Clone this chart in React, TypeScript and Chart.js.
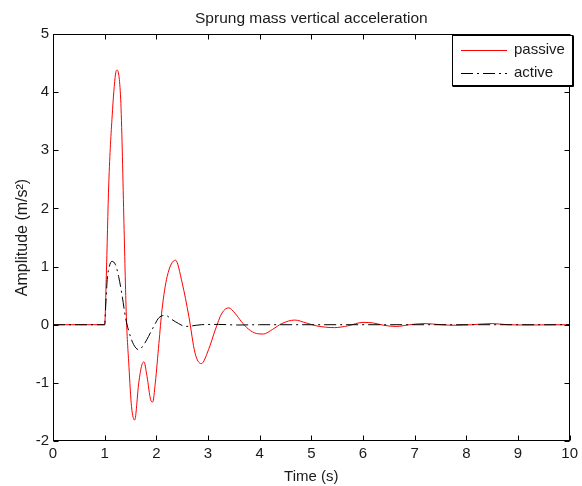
import React, { useEffect, useRef } from "react";
import { Chart, registerables } from "chart.js";

Chart.register(...registerables);

const FONT = "'Liberation Sans', Arial, Helvetica, sans-serif";

const titleText = "Sprung mass vertical acceleration";
const xAxisLabel = "Time (s)";
const yAxisLabel = "Amplitude (m/s²)";
const seriesNames = ["passive", "active"];

const xTickValues = [0, 1, 2, 3, 4, 5, 6, 7, 8, 9, 10];
const yTickValues = [-2, -1, 0, 1, 2, 3, 4, 5];

const passiveTime = [
  0, 1.0, 1.03, 1.08, 1.145, 1.21, 1.24, 1.31, 1.34, 1.37, 1.42, 1.47, 1.52, 1.58,
  1.66, 1.72, 1.76, 1.82, 1.89, 1.93, 1.98, 2.05, 2.11, 2.21, 2.37, 2.5, 2.63, 2.75,
  2.87, 3.01, 3.14, 3.27, 3.4, 3.52, 3.65, 3.75, 3.9, 4.07, 4.25, 4.43, 4.68, 4.9,
  5.1, 5.45, 5.7, 6.0, 6.2, 6.4, 6.65, 6.9, 7.2, 7.5, 7.8, 8.1, 8.5, 8.8, 9.2, 10,
];
const passiveValues = [
  0, 0, 0.78, 2.44, 3.59, 4.31, 4.38, 3.88, 3.02, 1.87, 0.14, -0.72, -1.41, -1.64,
  -1.0, -0.69, -0.64, -0.89, -1.29, -1.33, -1.0, -0.32, 0.26, 0.83, 1.11, 0.72, 0.14, -0.49,
  -0.67, -0.43, -0.09, 0.2, 0.29, 0.2, 0.05, -0.05, -0.14, -0.16, -0.08, 0.02, 0.08, 0.03,
  -0.02, -0.05, -0.02, 0.04, 0.03, -0.01, -0.03, 0.0, 0.02, 0.0, -0.01, 0.0, 0.02, 0.0, -0.005, 0,
];

const activeTime = [
  0, 1.0, 1.02, 1.05, 1.09, 1.14, 1.21, 1.27, 1.34, 1.4, 1.47, 1.56, 1.66, 1.76,
  1.85, 1.95, 2.05, 2.18, 2.3, 2.43, 2.56, 2.69, 2.87, 3.2, 3.6, 4.0, 10,
];
const activeValues = [
  0, 0, 0.32, 0.78, 1.0, 1.09, 1.03, 0.83, 0.49, 0.14, -0.12, -0.34, -0.43, -0.34,
  -0.2, -0.03, 0.12, 0.16, 0.09, 0.02, -0.03, -0.02, 0, 0.005, -0.005, 0, 0,
];

const passiveColor = "#ff0000";
const activeColor = "#000000";
const activeDash = [12, 4, 2, 4];
const textColor = "#1a1a1a";

const decorPlugin = {
  id: "matlabDecor",
  afterDatasetsDraw(chart: any) {
    const { ctx, chartArea, scales } = chart;
    const { left, right, top, bottom } = chartArea;
    const xs = scales.x;
    const ys = scales.y;
    ctx.save();
    // frame
    ctx.strokeStyle = "#000";
    ctx.lineWidth = 1;
    const l = Math.round(left) + 0.5;
    const r = Math.round(right) - 0.5;
    const t = Math.round(top) + 0.5;
    const b = Math.round(bottom) - 0.5;
    ctx.strokeRect(l, t, r - l, b - t);
    // inner ticks
    const tl = 5;
    ctx.beginPath();
    xTickValues.forEach((v) => {
      const px = Math.round(xs.getPixelForValue(v)) + 0.5;
      ctx.moveTo(px, b);
      ctx.lineTo(px, b - tl);
      ctx.moveTo(px, t);
      ctx.lineTo(px, t + tl);
    });
    yTickValues.forEach((v) => {
      const py = Math.round(ys.getPixelForValue(v)) + 0.5;
      ctx.moveTo(l, py);
      ctx.lineTo(l + tl, py);
      ctx.moveTo(r, py);
      ctx.lineTo(r - tl, py);
    });
    ctx.stroke();

    // legend
    const lx = 452.5;
    const ly = 35.5;
    const lw = 120;
    const lh = 50;
    ctx.fillStyle = "#fff";
    ctx.fillRect(lx, ly, lw, lh);
    ctx.strokeStyle = "#000";
    ctx.lineWidth = 1;
    ctx.strokeRect(lx, ly, lw, lh);
    ctx.beginPath();
    ctx.moveTo(lx + lw + 1, ly);
    ctx.lineTo(lx + lw + 1, ly + lh + 1);
    ctx.lineTo(lx, ly + lh + 1);
    ctx.stroke();

    ctx.lineWidth = 1;
    ctx.strokeStyle = passiveColor;
    ctx.setLineDash([]);
    ctx.beginPath();
    ctx.moveTo(461, 50.5);
    ctx.lineTo(507, 50.5);
    ctx.stroke();
    ctx.strokeStyle = activeColor;
    ctx.setLineDash(activeDash);
    ctx.beginPath();
    ctx.moveTo(461, 73.5);
    ctx.lineTo(507, 73.5);
    ctx.stroke();
    ctx.setLineDash([]);

    ctx.fillStyle = textColor;
    ctx.font = `15px ${FONT}`;
    ctx.textAlign = "left";
    ctx.textBaseline = "middle";
    ctx.fillText(seriesNames[0], 514, 50);
    ctx.fillText(seriesNames[1], 514, 73);

    // title
    ctx.font = `15.5px ${FONT}`;
    ctx.textAlign = "center";
    ctx.textBaseline = "alphabetic";
    ctx.fillText(titleText, (left + right) / 2, 23);
    // x label
    ctx.font = `15px ${FONT}`;
    ctx.fillText(xAxisLabel, (left + right) / 2, 481);
    // y label
    ctx.font = `16px ${FONT}`;
    ctx.save();
    ctx.translate(27, (top + bottom) / 2);
    ctx.rotate(-Math.PI / 2);
    ctx.fillText(yAxisLabel, 0, 0);
    ctx.restore();

    ctx.restore();
  },
};

export default function App() {
  const canvasRef = useRef<HTMLCanvasElement | null>(null);

  useEffect(() => {
    const canvas = canvasRef.current;
    if (!canvas) return;
    const chart = new Chart(canvas, {
      type: "line",
      data: {
        datasets: [
          {
            label: seriesNames[1],
            data: activeTime.map((t, i) => ({ x: t, y: activeValues[i] })),
            borderColor: activeColor,
            borderWidth: 1,
            borderDash: activeDash,
            pointRadius: 0,
            fill: false,
            cubicInterpolationMode: "monotone",
            order: 0,
          },
          {
            label: seriesNames[0],
            data: passiveTime.map((t, i) => ({ x: t, y: passiveValues[i] })),
            borderColor: passiveColor,
            borderWidth: 1,
            pointRadius: 0,
            fill: false,
            cubicInterpolationMode: "monotone",
            order: 1,
          },
        ],
      },
      options: {
        responsive: false,
        animation: false,
        devicePixelRatio: 1,
        layout: { padding: { left: 0, right: 10, top: 34, bottom: 0 } },
        plugins: {
          legend: { display: false },
          title: { display: false },
          tooltip: { enabled: false },
        },
        scales: {
          x: {
            type: "linear",
            min: 0,
            max: 10,
            afterFit: (scale: any) => {
              scale.height = 45;
            },
            afterBuildTicks: (scale: any) => {
              scale.ticks = xTickValues.map((v) => ({ value: v }));
            },
            ticks: {
              color: textColor,
              font: { family: FONT, size: 15 },
              padding: 4,
              maxRotation: 0,
              autoSkip: false,
            },
            grid: { display: false, drawTicks: false },
            border: { display: false },
          },
          y: {
            type: "linear",
            min: -2,
            max: 5,
            afterFit: (scale: any) => {
              scale.width = 53;
            },
            afterBuildTicks: (scale: any) => {
              scale.ticks = yTickValues.map((v) => ({ value: v }));
            },
            ticks: {
              color: textColor,
              font: { family: FONT, size: 15 },
              padding: 4,
              autoSkip: false,
            },
            grid: { display: false, drawTicks: false },
            border: { display: false },
          },
        },
      },
      plugins: [decorPlugin],
    });
    return () => chart.destroy();
  }, []);

  return (
    <div
      style={{
        position: "fixed",
        left: 0,
        top: 0,
        width: 582,
        height: 486,
        background: "#fff",
      }}
    >
      <canvas ref={canvasRef} width={582} height={486} style={{ display: "block" }} />
    </div>
  );
}
